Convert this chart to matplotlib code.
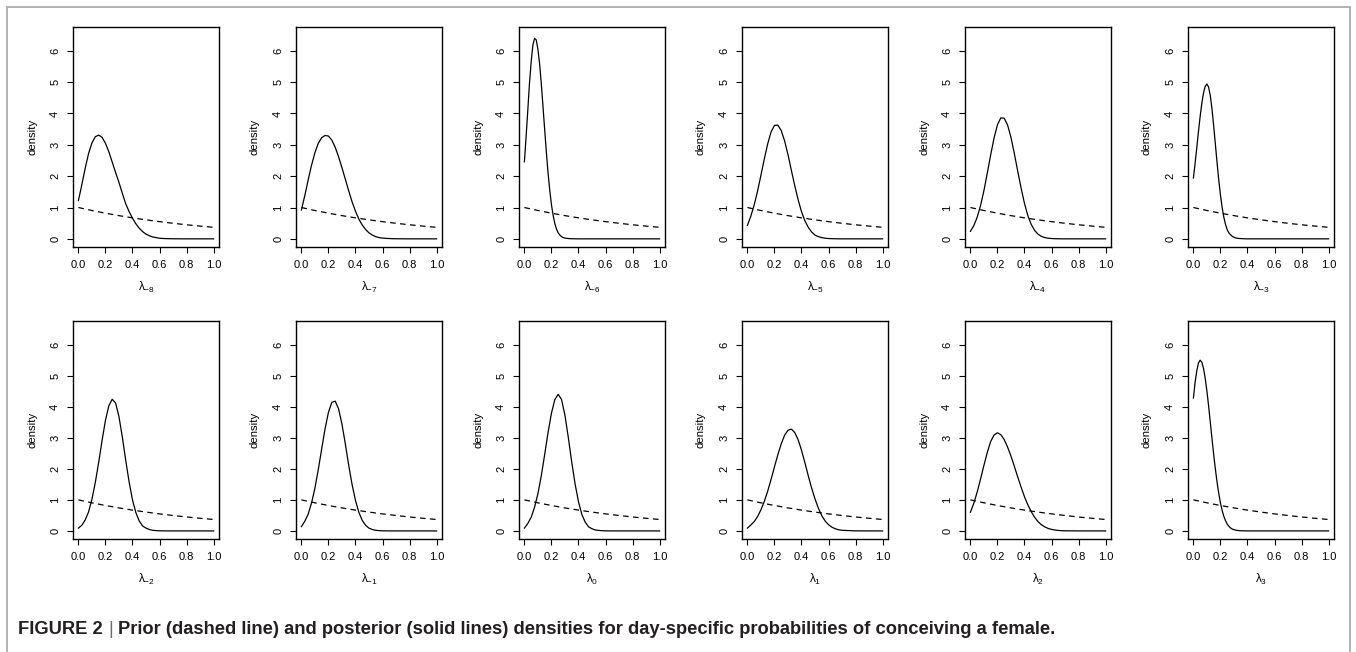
import matplotlib
matplotlib.use('Agg')
import matplotlib.pyplot as plt
from matplotlib.patches import Rectangle

plt.rcParams['font.family'] = ['Liberation Sans', 'DejaVu Sans']
plt.rcParams['mathtext.fontset'] = 'custom'
plt.rcParams['mathtext.rm'] = 'Liberation Sans'
plt.rcParams['mathtext.it'] = 'Liberation Sans'
plt.rcParams['mathtext.bf'] = 'Liberation Sans:bold'

# ---------------- data ----------------
X = [0.0, 0.025, 0.05, 0.075, 0.1, 0.125, 0.15, 0.175, 0.2, 0.225, 0.25, 0.275,
     0.3, 0.325, 0.35, 0.375, 0.4, 0.425, 0.45, 0.475, 0.5, 0.525, 0.55, 0.575,
     0.6, 0.625, 0.65, 0.675, 0.7, 0.8, 0.9, 1.0]

# finer x grid for the three narrow posteriors
X_FINE = [0.0, 0.0125, 0.025, 0.0375, 0.05, 0.0625, 0.075, 0.0875, 0.1, 0.1125,
          0.125, 0.1375, 0.15, 0.1625, 0.175, 0.1875, 0.2, 0.2125, 0.225, 0.2375,
          0.25, 0.2625, 0.275, 0.2875, 0.3, 0.3125, 0.325, 0.3375, 0.35, 0.3625,
          0.375, 0.3875, 0.4, 0.45, 0.5, 0.6, 0.8, 1.0]

PRIOR_X = [0.0, 0.1, 0.2, 0.3, 0.4, 0.5, 0.6, 0.7, 0.8, 0.9, 1.0]
PRIOR_Y = [1.0, 0.905, 0.819, 0.741, 0.670, 0.607, 0.549, 0.497, 0.449, 0.407, 0.368]

LABELS = [r'$\lambda_{-8}$', r'$\lambda_{-7}$', r'$\lambda_{-6}$', r'$\lambda_{-5}$',
          r'$\lambda_{-4}$', r'$\lambda_{-3}$', r'$\lambda_{-2}$', r'$\lambda_{-1}$',
          r'$\lambda_{0}$', r'$\lambda_{1}$', r'$\lambda_{2}$', r'$\lambda_{3}$']

POST_M8 = [1.22, 1.72, 2.25, 2.72, 3.06, 3.26, 3.31, 3.24, 3.05, 2.78, 2.45, 2.12,
           1.80, 1.45, 1.12, 0.87, 0.66, 0.48, 0.34, 0.23, 0.15, 0.10, 0.06, 0.04,
           0.02, 0.012, 0.008, 0.005, 0.003, 0, 0, 0]
POST_M7 = [0.92, 1.38, 1.88, 2.35, 2.75, 3.05, 3.23, 3.30, 3.28, 3.15, 2.92, 2.62,
           2.27, 1.90, 1.53, 1.18, 0.88, 0.63, 0.44, 0.30, 0.19, 0.12, 0.07, 0.04,
           0.025, 0.015, 0.01, 0.005, 0.003, 0, 0, 0]
POST_M6 = [2.46, 3.26, 4.10, 4.96, 5.65, 6.18, 6.40, 6.35, 6.05, 5.58,
           4.95, 4.22, 3.48, 2.76, 2.10, 1.55, 1.09, 0.75, 0.49, 0.31,
           0.19, 0.12, 0.07, 0.04, 0.025, 0.015, 0.01, 0.006, 0.004, 0.003,
           0.002, 0.001, 0, 0, 0, 0, 0, 0]
POST_M5 = [0.43, 0.72, 1.08, 1.52, 2.03, 2.55, 3.03, 3.41, 3.62, 3.63, 3.46, 3.13,
           2.69, 2.19, 1.70, 1.25, 0.87, 0.58, 0.37, 0.22, 0.12, 0.07, 0.04, 0.02,
           0.01, 0.006, 0.003, 0.001, 0, 0, 0, 0]
POST_M4 = [0.24, 0.42, 0.69, 1.06, 1.54, 2.10, 2.68, 3.22, 3.64, 3.86, 3.85, 3.63,
           3.24, 2.72, 2.16, 1.62, 1.13, 0.74, 0.46, 0.27, 0.15, 0.08, 0.04, 0.02,
           0.01, 0.005, 0.003, 0.001, 0, 0, 0, 0]
POST_M3 = [1.94, 2.41, 2.91, 3.43, 3.91, 4.33, 4.66, 4.87, 4.94, 4.84,
           4.57, 4.14, 3.60, 3.02, 2.43, 1.88, 1.40, 1.00, 0.69, 0.46,
           0.29, 0.19, 0.13, 0.08, 0.05, 0.03, 0.02, 0.012, 0.008, 0.005,
           0.003, 0.001, 0, 0, 0, 0, 0, 0]
POST_M2 = [0.09, 0.18, 0.35, 0.61, 1.02, 1.56, 2.21, 2.91, 3.56, 4.03, 4.24, 4.12,
           3.68, 3.02, 2.27, 1.58, 1.00, 0.59, 0.32, 0.16, 0.09, 0.045, 0.02, 0.01,
           0.004, 0.002, 0.001, 0, 0, 0, 0, 0]
POST_M1 = [0.14, 0.31, 0.54, 0.90, 1.38, 1.98, 2.64, 3.29, 3.82, 4.14, 4.18, 3.93,
           3.44, 2.80, 2.11, 1.49, 0.98, 0.60, 0.34, 0.18, 0.09, 0.045, 0.02, 0.01,
           0.004, 0.002, 0.001, 0, 0, 0, 0, 0]
POST_0 = [0.09, 0.24, 0.44, 0.76, 1.20, 1.78, 2.46, 3.17, 3.79, 4.23, 4.40, 4.23,
          3.72, 3.00, 2.22, 1.51, 0.94, 0.53, 0.28, 0.13, 0.07, 0.03, 0.015, 0.007,
          0.003, 0.001, 0, 0, 0, 0, 0, 0]
POST_P1 = [0.09, 0.19, 0.30, 0.46, 0.68, 0.95, 1.28, 1.66, 2.06, 2.45, 2.80, 3.08,
           3.24, 3.28, 3.17, 2.94, 2.60, 2.20, 1.78, 1.38, 1.03, 0.73, 0.49, 0.32,
           0.20, 0.12, 0.07, 0.036, 0.02, 0.002, 0, 0]
POST_P2 = [0.60, 0.89, 1.25, 1.67, 2.11, 2.53, 2.88, 3.09, 3.16, 3.10, 2.94, 2.70,
           2.41, 2.08, 1.74, 1.41, 1.10, 0.84, 0.62, 0.44, 0.30, 0.20, 0.13, 0.08,
           0.05, 0.03, 0.015, 0.008, 0.004, 0, 0, 0]
POST_P3 = [4.28, 4.78, 5.16, 5.41, 5.50, 5.43, 5.23, 4.91, 4.50, 4.02,
           3.50, 2.97, 2.46, 1.99, 1.57, 1.21, 0.90, 0.66, 0.47, 0.33,
           0.22, 0.15, 0.095, 0.06, 0.04, 0.025, 0.015, 0.01, 0.006, 0.004,
           0.002, 0.001, 0, 0, 0, 0, 0, 0]

POSTERIORS = [POST_M8, POST_M7, POST_M6, POST_M5, POST_M4, POST_M3,
              POST_M2, POST_M1, POST_0, POST_P1, POST_P2, POST_P3]
POST_X = [X, X, X_FINE, X, X, X_FINE, X, X, X, X, X, X_FINE]

X_TICKS = [0.0, 0.2, 0.4, 0.6, 0.8, 1.0]
X_TICKLABELS = ['0.0', '0.2', '0.4', '0.6', '0.8', '1.0']
Y_TICKS = [0, 1, 2, 3, 4, 5, 6]
Y_TICKLABELS = ['0', '1', '2', '3', '4', '5', '6']

CAPTION_HEAD = 'FIGURE 2'
CAPTION_BODY = ('Prior (dashed line) and posterior (solid lines) densities for '
                'day-specific probabilities of conceiving a female.')

# ---------------- layout ----------------
W, H = 1356, 652
fig = plt.figure(figsize=(W / 100, H / 100), dpi=100)
fig.patch.set_facecolor('white')

LEFTS = [73, 296, 519, 742, 965, 1188]
PW = 146
ROWS = [(27, 247), (321, 539)]

for i, (xs, post, lab) in enumerate(zip(POST_X, POSTERIORS, LABELS)):
    r, c = divmod(i, 6)
    top, bot = ROWS[r]
    ax = fig.add_axes([LEFTS[c] / W, (H - bot) / H, PW / W, (bot - top) / H])
    ax.plot(xs, post, color='black', lw=0.9, solid_joinstyle='round')
    ax.plot(PRIOR_X, PRIOR_Y, color='black', lw=0.9, linestyle=(0, (4.5, 3.5)))
    ax.set_xlim(-0.04, 1.04)
    ax.set_ylim(-0.26, 6.76)
    ax.set_xticks(X_TICKS)
    ax.set_xticklabels(X_TICKLABELS)
    ax.set_yticks(Y_TICKS)
    ax.set_yticklabels(Y_TICKLABELS, rotation=90, va='center')
    ax.tick_params(direction='out', length=4.2, width=0.8, labelsize=8,
                   colors='black', pad=5.0)
    for s in ax.spines.values():
        s.set_linewidth(1.0)
    ax.text(-41 / PW, 0.5, 'density', rotation=90, ha='center', va='center',
            transform=ax.transAxes, fontsize=8.2)
    ax.text(0.5, -40.5 / (bot - top), lab, ha='center', va='center',
            transform=ax.transAxes, fontsize=8.5)

# outer frame
fig.add_artist(Rectangle((7 / W, -0.1), (1350 - 7) / W, (H - 6.5) / H + 0.1,
                         transform=fig.transFigure, fill=False,
                         edgecolor='#ababab', lw=1.3))

# caption
fig.canvas.draw()
rend = fig.canvas.get_renderer()


def twidth(s, size, weight):
    t = fig.text(0, 0, s, fontsize=size, fontweight=weight)
    w = t.get_window_extent(rend).width
    t.remove()
    return w


base = 13.0
sp = twidth('a a', base, 'bold') - twidth('aa', base, 'bold')
tot = (twidth(CAPTION_HEAD, base, 'bold') + 2 * sp + twidth('|', base, 'normal')
       + twidth(CAPTION_BODY, base, 'bold'))
size = base * (1054 - 18) / tot
sp = twidth('a a', size, 'bold') - twidth('aa', size, 'bold')
ybase = (H - 634) / H
x = 18
col = '#231f20'
fig.text(x / W, ybase, CAPTION_HEAD, fontsize=size, fontweight='bold', color=col, va='baseline')
x += twidth(CAPTION_HEAD, size, 'bold') + sp
fig.text(x / W, ybase, '|', fontsize=size, fontweight='normal', color='#6d6e71', va='baseline')
x += twidth('|', size, 'normal') + sp
fig.text(x / W, ybase, CAPTION_BODY, fontsize=size, fontweight='bold', color=col, va='baseline')

fig.savefig('out.png', dpi=100, facecolor='white')
